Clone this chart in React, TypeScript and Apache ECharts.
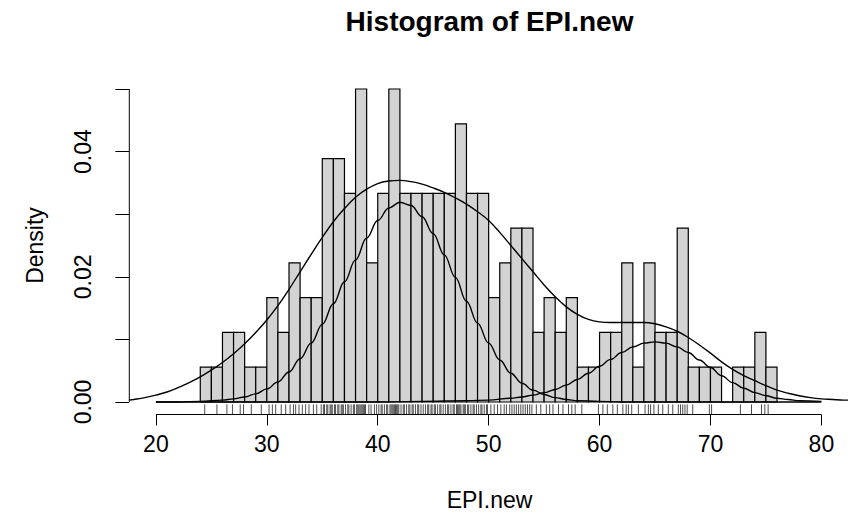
import React, { useEffect, useRef } from "react";
import * as echarts from "echarts";

// ---------- data ----------
const N = 180;
const breaks = [
  24, 25, 26, 27, 28, 29, 30, 31, 32, 33, 34, 35, 36, 37, 38, 39, 40, 41, 42, 43, 44, 45, 46, 47, 48, 49, 50,
  51, 52, 53, 54, 55, 56, 57, 58, 59, 60, 61, 62, 63, 64, 65, 66, 67, 68, 69, 70, 71, 72, 73, 74, 75, 76,
];
const counts = [
  1, 1, 2, 2, 1, 1, 3, 2, 4, 3, 3, 7, 7, 6, 9, 4, 6, 9, 6, 6, 6, 6, 6, 8, 6, 6, 3, 4,
  5, 5, 2, 3, 2, 3, 1, 1, 2, 2, 4, 1, 4, 2, 2, 5, 1, 1, 1, 0, 1, 1, 2, 1,
];

const rugValues = [
  24.4, 25.5, 26.4, 26.9, 27.6, 27.9, 28.6, 29.5, 30.2, 30.5, 30.8, 31.3, 31.7,
  32.1, 32.4, 32.6, 32.9, 33.2, 33.5, 33.8, 34.2, 34.5, 34.9,
  35.1, 35.2, 35.4, 35.5, 35.7, 35.8, 35.9, 36.1, 36.2, 36.4, 36.5, 36.7, 36.8, 36.9,
  37.1, 37.3, 37.4, 37.6, 37.8, 37.9, 38.1, 38.2, 38.3, 38.4, 38.5, 38.6, 38.7, 38.8, 38.9,
  39.2, 39.4, 39.7, 39.9, 40.1, 40.3, 40.4, 40.6, 40.8, 40.9,
  41.1, 41.2, 41.3, 41.4, 41.5, 41.6, 41.7, 41.8, 41.9, 42.1, 42.3, 42.4, 42.6, 42.8, 42.9,
  43.1, 43.2, 43.4, 43.6, 43.7, 43.9, 44.1, 44.3, 44.5, 44.6, 44.8, 44.9,
  45.1, 45.2, 45.4, 45.6, 45.7, 45.9, 46.1, 46.3, 46.4, 46.6, 46.8, 46.9,
  47.1, 47.2, 47.3, 47.4, 47.5, 47.7, 47.8, 47.9, 48.1, 48.2, 48.4, 48.6, 48.7, 48.9,
  49.1, 49.3, 49.4, 49.6, 49.8, 49.9, 50.2, 50.5, 50.8, 51.1, 51.4, 51.6, 51.9,
  52.1, 52.3, 52.5, 52.7, 52.9, 53.1, 53.3, 53.5, 53.7, 53.9, 54.3, 54.7,
  55.2, 55.5, 55.8, 56.3, 56.7, 57.2, 57.5, 57.8, 58.4, 59.9, 60.3, 60.7, 61.2, 61.6,
  62.1, 62.4, 62.6, 62.9, 63.5, 64.1, 64.4, 64.6, 64.9, 65.3, 65.7, 66.2, 66.6,
  67.1, 67.3, 67.5, 67.7, 67.9, 68.4, 69.9, 70.1, 72.7, 73.7, 74.6, 74.9, 75.2,
];

const kdeX = [
  17.6, 18, 19, 20, 21, 22, 23, 24, 25, 26, 27, 28, 29, 30, 31, 32, 33, 34, 35, 36, 37, 38, 39, 40, 41, 42,
  43, 44, 45, 46, 47, 48, 49, 50, 51, 52, 53, 54, 55, 56, 57, 58, 59, 60, 61, 62, 63, 64, 65, 66, 67, 68,
  69, 70, 71, 72, 73, 74, 75, 76, 77, 78, 79, 80, 81, 82, 82.4,
];
const kdeY = [
  0.0003, 0.0004, 0.0007, 0.0011, 0.0016, 0.0023, 0.0031, 0.004, 0.0051, 0.0063, 0.0077, 0.0093, 0.0111,
  0.0131, 0.0154, 0.018, 0.0208, 0.0236, 0.0263, 0.0288, 0.0309, 0.0327, 0.034, 0.0349, 0.0353, 0.0354,
  0.0352, 0.0348, 0.0342, 0.0335, 0.0326, 0.0316, 0.0304, 0.029, 0.0271, 0.025, 0.0229, 0.0208, 0.0187,
  0.0168, 0.0152, 0.014, 0.0132, 0.0128, 0.0127, 0.0127, 0.0127, 0.0127, 0.0125, 0.012, 0.0113, 0.0103,
  0.0091, 0.0078, 0.0064, 0.0052, 0.0042, 0.0034, 0.0026, 0.0019, 0.0014, 0.001, 0.0007, 0.0005, 0.0004,
  0.0003, 0.0003,
];

const comp1X = [
  20, 22, 24, 26, 27, 28, 29, 30, 31, 32, 33, 34, 35, 36, 37, 38, 39, 40, 41, 42, 43, 44, 45, 46, 47, 48,
  49, 50, 51, 52, 53, 54, 55, 56, 57, 58, 60, 62, 66, 70, 75, 80,
];
const comp1Y = [
  0, 0, 0.0001, 0.0003, 0.0005, 0.0008, 0.0013, 0.0021, 0.0032, 0.0048, 0.0069, 0.0094, 0.0124, 0.0157,
  0.0192, 0.0227, 0.0262, 0.029, 0.031, 0.0319, 0.0314, 0.0296, 0.0269, 0.0235, 0.0199, 0.0161, 0.0126,
  0.0094, 0.0067, 0.0046, 0.003, 0.0019, 0.0012, 0.0007, 0.0004, 0.0002, 0.0001, 0, 0, 0, 0, 0,
];

const comp2X = [
  20, 25, 30, 35, 40, 44, 48, 50, 52, 53, 54, 55, 56, 57, 58, 59, 60, 61, 62, 63, 64, 65, 66, 67, 68, 69,
  70, 71, 72, 73, 74, 75, 76, 77, 78, 80,
];
const comp2Y = [
  0, 0, 0, 0, 0, 0.0001, 0.0002, 0.0003, 0.0006, 0.0008, 0.0011, 0.0015, 0.002, 0.0027, 0.0036, 0.0046,
  0.0057, 0.0068, 0.0079, 0.0088, 0.0094, 0.0096, 0.0094, 0.0088, 0.0079, 0.0067, 0.0055, 0.0042, 0.0031,
  0.0022, 0.0015, 0.001, 0.0006, 0.0004, 0.0002, 0.0001,
];

const xTicks = [20, 30, 40, 50, 60, 70, 80];
const yTicks = [0, 0.01, 0.02, 0.03, 0.04, 0.05];
const yLabelVals = [0, 0.02, 0.04];

const X_MIN = 17.6;
const X_MAX = 82.4;
const Y_MIN = -0.002;
const Y_MAX = 0.052;

const FONT = '"Liberation Sans", Arial, Helvetica, sans-serif';

export default function App() {
  const ref = useRef<HTMLDivElement>(null);

  useEffect(() => {
    if (!ref.current) return;
    const chart = echarts.init(ref.current, null, { renderer: "svg" });

    const histData = counts.map((c, i) => [breaks[i], breaks[i + 1], c / N]);
    const zip = (xs: number[], ys: number[]) => xs.map((x, i) => [x, ys[i]]);
    const rugTop = Y_MIN + 0.03 * (Y_MAX - Y_MIN);

    const curveStyle = { color: "#000", width: 1.4 };

    chart.setOption({
      animation: false,
      backgroundColor: "#fff",
      grid: { left: 129.3, top: 76.5, width: 720.4, height: 338 },
      xAxis: {
        type: "value",
        min: X_MIN,
        max: X_MAX,
        axisLine: { show: false, onZero: false },
        splitLine: { show: false },
        axisTick: {
          show: true,
          customValues: xTicks,
          length: 11,
          lineStyle: { color: "#000", width: 1 },
        },
        axisLabel: {
          customValues: xTicks,
          color: "#000",
          fontSize: 23,
          fontFamily: FONT,
          margin: 18,
          formatter: (v: number) => String(v),
        },
      },
      yAxis: {
        type: "value",
        min: Y_MIN,
        max: Y_MAX,
        axisLine: { show: false, onZero: false },
        splitLine: { show: false },
        axisTick: {
          show: true,
          customValues: yTicks,
          length: 14,
          lineStyle: { color: "#000", width: 1 },
        },
        axisLabel: {
          customValues: yLabelVals,
          rotate: 90,
          color: "#000",
          fontSize: 23,
          fontFamily: FONT,
          margin: 35,
          formatter: (v: number) => v.toFixed(2),
        },
      },
      graphic: [
        {
          type: "text",
          x: 489.5,
          y: 21,
          style: {
            text: "Histogram of EPI.new",
            font: `bold 28px ${FONT}`,
            fill: "#000",
            textAlign: "center",
            textVerticalAlign: "middle",
            align: "center",
            verticalAlign: "middle",
          },
        },
        {
          type: "text",
          x: 489.5,
          y: 500,
          style: {
            text: "EPI.new",
            font: `23px ${FONT}`,
            fill: "#000",
            textAlign: "center",
            textVerticalAlign: "middle",
            align: "center",
            verticalAlign: "middle",
          },
        },
        {
          type: "text",
          x: 35,
          y: 245.5,
          rotation: Math.PI / 2,
          style: {
            text: "Density",
            font: `23px ${FONT}`,
            fill: "#000",
            textAlign: "center",
            textVerticalAlign: "middle",
            align: "center",
            verticalAlign: "middle",
          },
        },
      ],
      series: [
        {
          type: "custom",
          name: "hist",
          data: histData,
          encode: { x: [0, 1], y: 2 },
          renderItem: (params: any, api: any) => {
            const x0 = api.value(0);
            const x1 = api.value(1);
            const d = api.value(2);
            const p0 = api.coord([x0, d]);
            const p1 = api.coord([x1, 0]);
            return {
              type: "rect",
              shape: { x: p0[0], y: p0[1], width: p1[0] - p0[0], height: p1[1] - p0[1] },
              style: { fill: "#d3d3d3", stroke: "#000", lineWidth: 1.2 },
            };
          },
          z: 1,
        },
        {
          type: "custom",
          name: "rug",
          data: rugValues.map((v) => [v]),
          encode: { x: 0 },
          clip: false,
          renderItem: (params: any, api: any) => {
            const v = api.value(0);
            const a = api.coord([v, Y_MIN]);
            const b = api.coord([v, rugTop]);
            return {
              type: "line",
              shape: { x1: a[0], y1: a[1], x2: b[0], y2: b[1] },
              style: { stroke: "#000", lineWidth: 0.7 },
            };
          },
          z: 2,
        },
        {
          type: "line",
          name: "density",
          data: zip(kdeX, kdeY),
          showSymbol: false,
          symbol: "none",
          smooth: 0.4,
          lineStyle: curveStyle,
          clip: true,
          z: 3,
        },
        {
          type: "line",
          name: "comp1",
          data: zip(comp1X, comp1Y),
          showSymbol: false,
          symbol: "none",
          smooth: 0.4,
          smoothMonotone: "x",
          lineStyle: curveStyle,
          z: 3,
        },
        {
          type: "line",
          name: "comp2",
          data: zip(comp2X, comp2Y),
          showSymbol: false,
          symbol: "none",
          smooth: 0.4,
          smoothMonotone: "x",
          lineStyle: curveStyle,
          z: 3,
        },
        {
          type: "line",
          name: "xaxisline",
          data: [
            [20, Y_MIN],
            [80, Y_MIN],
          ],
          showSymbol: false,
          symbol: "none",
          clip: false,
          lineStyle: { color: "#000", width: 1 },
          z: 4,
        },
        {
          type: "line",
          name: "yaxisline",
          data: [
            [X_MIN, 0],
            [X_MIN, 0.05],
          ],
          showSymbol: false,
          symbol: "none",
          clip: false,
          lineStyle: { color: "#000", width: 1 },
          z: 4,
        },
      ],
    });

    return () => chart.dispose();
  }, []);

  return (
    <div
      ref={ref}
      style={{ position: "absolute", left: 0, top: 0, width: 848, height: 528, background: "#fff" }}
    />
  );
}
